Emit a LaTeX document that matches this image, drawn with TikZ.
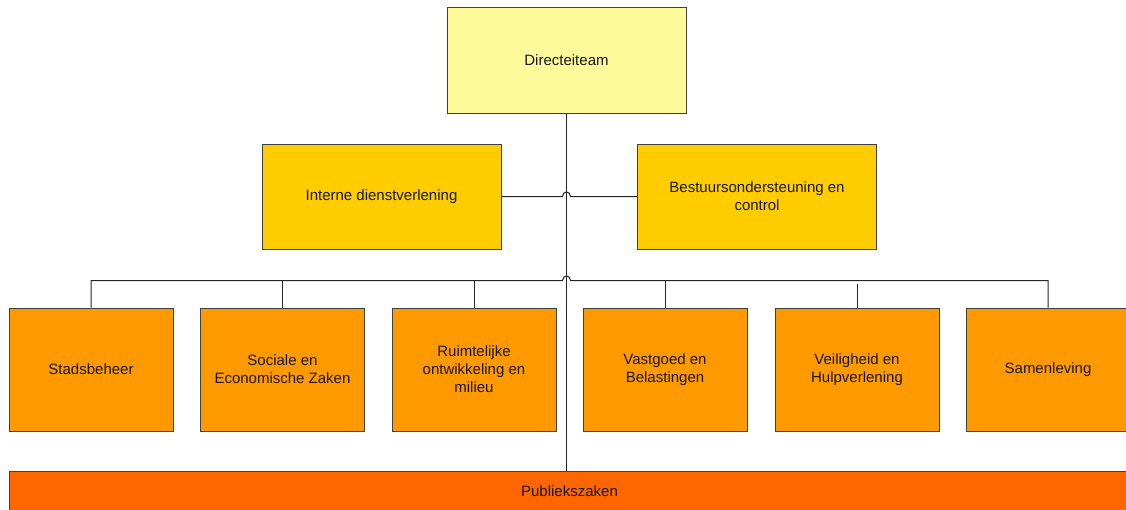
\documentclass[tikz,border=0pt]{standalone}
\usepackage{fontspec}
\setmainfont{Liberation Sans}
\begin{document}
\begin{tikzpicture}[x=1pt,y=-1pt,
  unit/.style={draw=black!75, line width=1pt, minimum width=#1, align=center,
    inner sep=0pt, font=\fontsize{15}{18}\selectfont, text=black!90},
  unit/.default=164pt,
  top/.style={unit=239pt, minimum height=106pt, fill=yellow!40!white},
  staff/.style={unit=239pt, minimum height=105pt, fill={rgb,255:red,255;green,204;blue,0}},
  dept/.style={unit=164pt, minimum height=123pt, fill={rgb,255:red,255;green,153;blue,0}},
  front/.style={unit=1121pt, minimum height=40pt, fill={rgb,255:red,255;green,102;blue,0}},
  link/.style={draw=black!85, line width=1pt}]
\useasboundingbox (0,0) rectangle (1126,509);
\clip (0,0) rectangle (1126,509);
\fill[white] (0,0) rectangle (1126,509);

% management
\node[top] (dir) at (566.5,60) {Directeiteam};

% staff units
\node[staff] (ids) at (381.5,196.5) {Interne dienstverlening};
\node[staff] (bos) at (757,196.5) {Bestuursondersteuning en\\control};

% line departments
\node[dept] (stad) at (91,369.5) {Stadsbeheer};
\node[dept] (soc)  at (282.5,369.5) {Sociale en\\Economische Zaken};
\node[dept] (ruim) at (474,369.5) {Ruimtelijke\\ontwikkeling en\\milieu};
\node[dept] (vast) at (665,369.5) {Vastgoed en\\Belastingen};
\node[dept] (veil) at (857,369.5) {Veiligheid en\\Hulpverlening};
\node[dept] (same) at (1048,369.5) {Samenleving};

% front office
\node[front] (pub) at (569.5,491) {Publiekszaken};

% main vertical line
\draw[link] (dir.south) -- (dir.south |- pub.north);

% staff connector with a hop over the vertical line
\draw[link] (ids.east) -- ([xshift=-4pt]dir.south |- ids.east)
  .. controls +(0,-6) and +(0,-6) .. ([xshift=4pt]dir.south |- ids.east) -- (bos.west);

% department bus with a hop over the vertical line
\coordinate (busy) at (0,280.5);
\draw[link] (stad.north) -- (stad.north |- busy) -- ([xshift=-4pt]dir.south |- busy)
  .. controls +(0,-6) and +(0,-6) .. ([xshift=4pt]dir.south |- busy)
  -- (same.north |- busy) -- (same.north);
\foreach \d in {soc,ruim,vast}
  \draw[link] (\d.north) -- (\d.north |- busy);
\draw[link] (veil.north) -- ([yshift=-3pt]veil.north |- busy);
\end{tikzpicture}
\end{document}
